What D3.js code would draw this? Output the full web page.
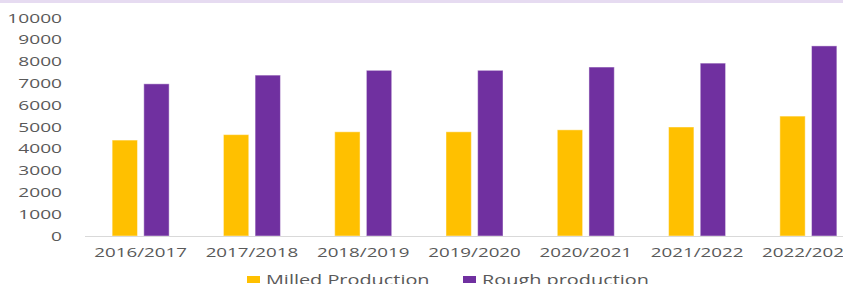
<!DOCTYPE html>
<html>
<head>
<meta charset="utf-8">
<script src="https://cdn.jsdelivr.net/npm/d3@7"></script>
<style>
  body { margin: 0; background: #fff; }
  svg { display: block; font-family: "Open Sans", sans-serif; }
</style>
</head>
<body>
<div id="vis"></div>
<script>
/*************************** data ************************************/
var seasons = ["2016/2017", "2017/2018", "2018/2019", "2019/2020",
               "2020/2021", "2021/2022", "2022/2023"];
var series = ["Milled Production", "Rough production"];
var milled = [4400, 4650, 4780, 4780, 4870, 5000, 5500];
var rough  = [6980, 7380, 7600, 7600, 7750, 7930, 8720];
var yTicks = [0, 1000, 2000, 3000, 4000, 5000, 6000, 7000, 8000, 9000, 10000];

var color = d3.scaleOrdinal().domain(series).range(["#ffc000", "#7030a0"]);

var W = 843, H = 284;
var stretch = 1.5; // text in the picture is widened

var svg = d3.select("div#vis").append("svg")
    .attr("width", W)
    .attr("height", H);

// thin band at the very top
svg.append("rect")
    .attr("x", 0).attr("y", 0)
    .attr("width", W).attr("height", 3)
    .attr("fill", "#e6dbf1");

var x = d3.scaleBand()
    .domain(seasons)
    .range([85, 864])
    .padding(0);

var xSub = d3.scaleBand()
    .domain(series)
    .range([-28.5, 28.5])
    .paddingInner(0.2);

var y = d3.scaleLinear()
    .domain([0, 10000])
    .range([236, 18]);

var rows = seasons.map(function(s, i) {
    return {season: s, values: [
        {key: series[0], value: milled[i]},
        {key: series[1], value: rough[i]}
    ]};
});

// bars
var groups = svg.selectAll("g.season")
    .data(rows)
  .enter().append("g")
    .attr("class", "season")
    .attr("transform", function(d) { return "translate(" + (x(d.season) + x.bandwidth() / 2) + ",0)"; });

groups.selectAll("rect")
    .data(function(d) { return d.values; })
  .enter().append("rect")
    .attr("x", function(d) { return xSub(d.key); })
    .attr("y", function(d) { return y(d.value); })
    .attr("width", xSub.bandwidth())
    .attr("height", function(d) { return y(0) - y(d.value); })
    .attr("fill", function(d) { return color(d.key); })
    .attr("stroke", "#ffffff")
    .attr("stroke-opacity", 0.45)
    .attr("stroke-width", 1);

// x axis line
svg.append("line")
    .attr("x1", x.range()[0]).attr("x2", W)
    .attr("y1", y(0) + 0.5).attr("y2", y(0) + 0.5)
    .attr("stroke", "#d9d9d9")
    .attr("stroke-width", 1);

// x labels
svg.selectAll("text.xlab")
    .data(seasons)
  .enter().append("text")
    .attr("class", "xlab")
    .attr("transform", function(d) {
        return "translate(" + (x(d) + x.bandwidth() / 2) + ",257) scale(" + stretch + ",1)";
    })
    .attr("text-anchor", "middle")
    .attr("font-size", 12.5)
    .attr("fill", "#595959")
    .text(function(d) { return d; });

// y labels
svg.selectAll("text.ylab")
    .data(yTicks)
  .enter().append("text")
    .attr("class", "ylab")
    .attr("transform", function(d) {
        return "translate(62," + (y(d) + 4.5) + ") scale(1.53,1)";
    })
    .attr("text-anchor", "end")
    .attr("font-size", 12.5)
    .attr("fill", "#595959")
    .text(function(d) { return d; });

// legend
var legendX = d3.scaleOrdinal().domain(series).range([247, 463]);

var legend = svg.selectAll("g.legend-elem")
    .data(series)
  .enter().append("g")
    .attr("class", "legend-elem")
    .attr("transform", function(d) { return "translate(" + legendX(d) + ",276)"; });

legend.append("rect")
    .attr("width", 13)
    .attr("height", 7)
    .attr("fill", function(d) { return color(d); });

legend.append("text")
    .attr("transform", "translate(19,8.5) scale(1.42,1)")
    .attr("font-size", 14)
    .attr("fill", "#595959")
    .text(function(d) { return d; });
</script>
</body>
</html>
